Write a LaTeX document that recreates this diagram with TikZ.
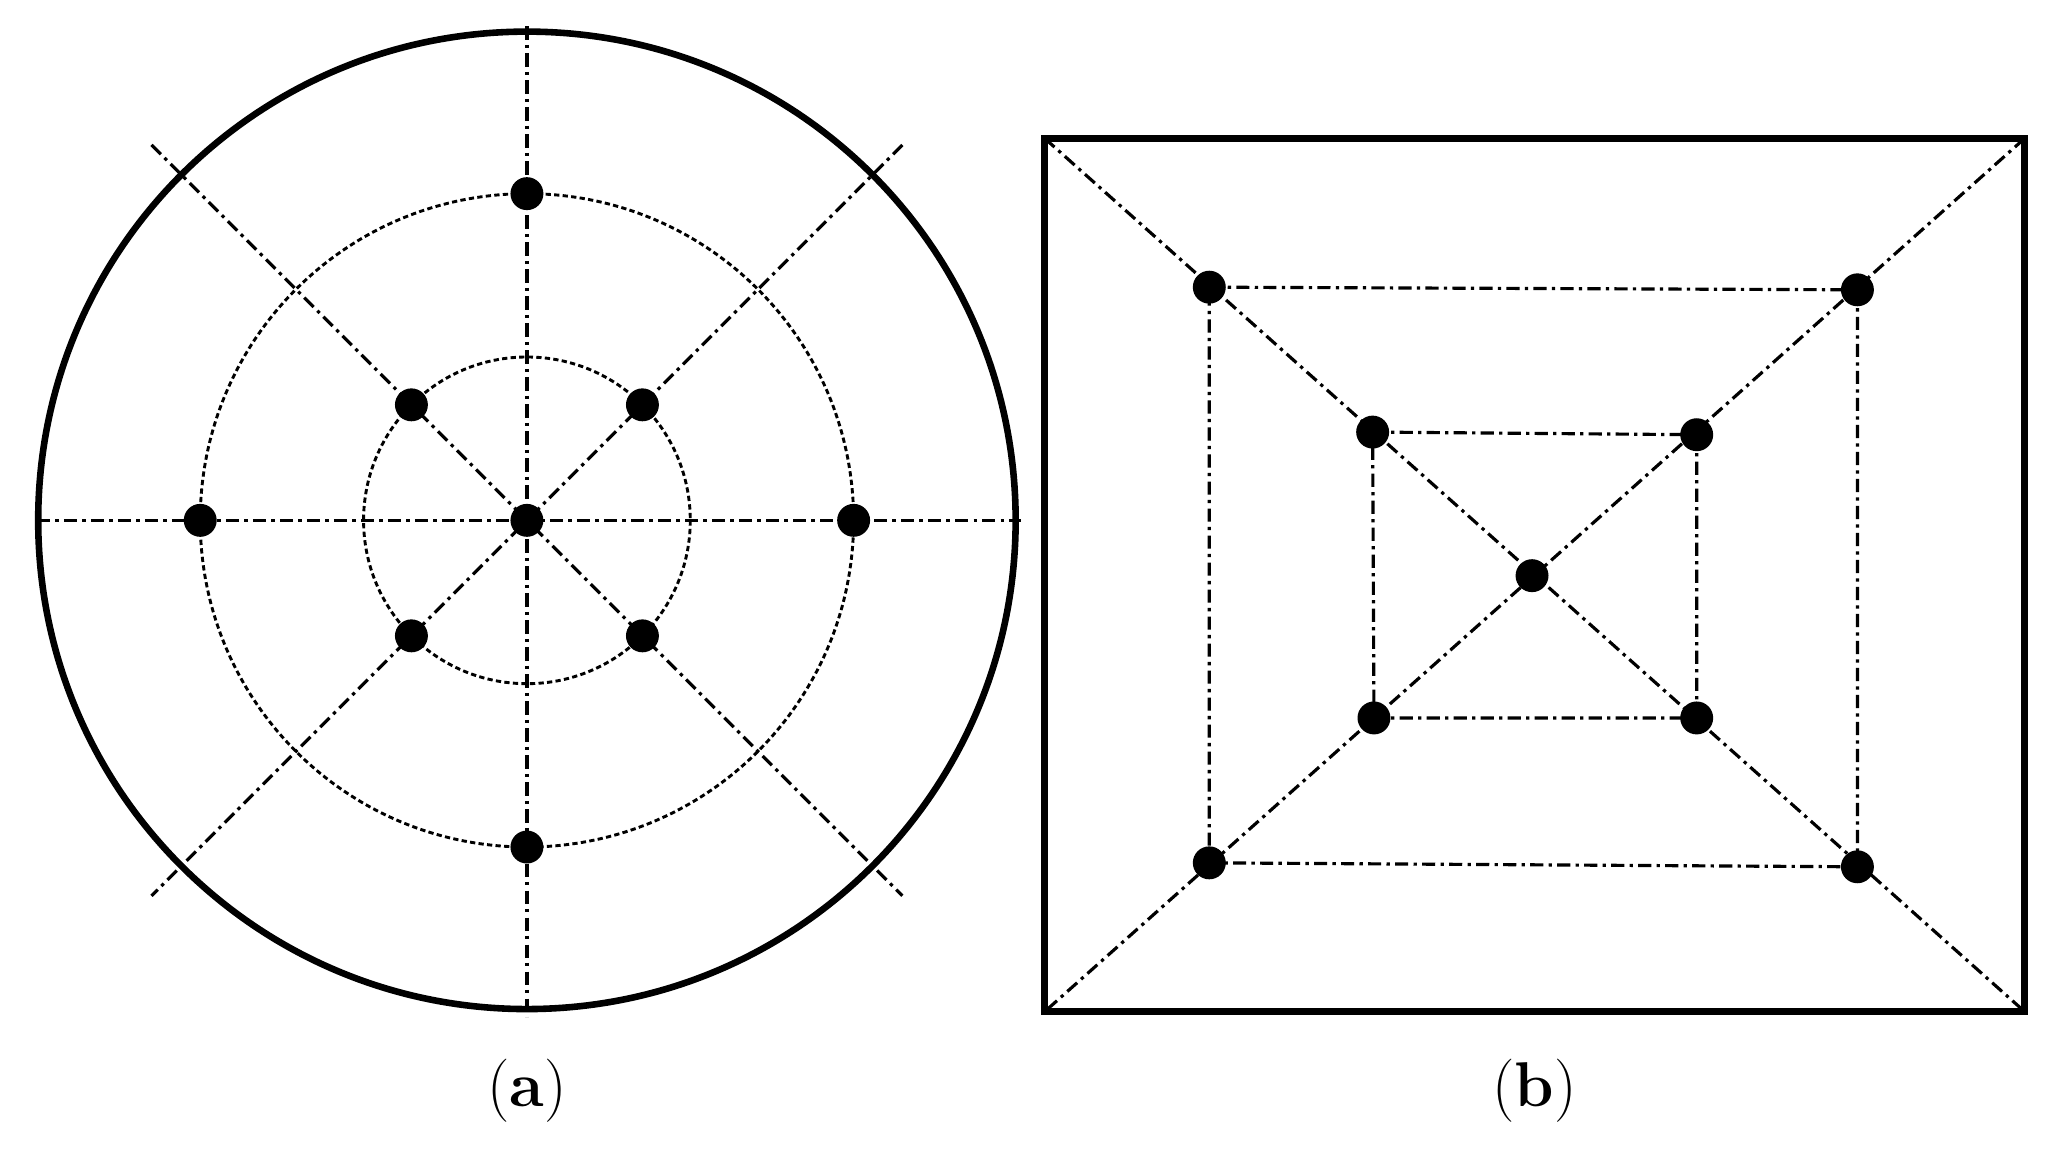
\documentclass[tikz,border=0pt]{standalone}
\usetikzlibrary{calc}
\begin{document}
\begin{tikzpicture}[x=1pt,y=-1pt,
  dd/.style={line width=2.4pt,dash pattern=on 10pt off 4pt on 2.5pt off 4pt},
  dt/.style={line width=2.2pt,dash pattern=on 4pt off 2.5pt},
  dot/.style={circle,fill=black,inner sep=0pt,minimum size=25pt},
  lab/.style={font=\fontsize{48}{52}\selectfont}]
\useasboundingbox (0,0) rectangle (1560,875);
% (a)
\coordinate (c) at (400,395);
\draw[dd] (400,20) -- (400,772);
\draw[dd] (28,395) -- (775,395);
\draw[dd] (115,110) -- (685,680);
\draw[dd] (685,110) -- (115,680);
\draw[dt] (c) circle (124);
\draw[dt] (c) circle (248);
\draw[line width=5pt] (c) circle (371);
\node[dot] (a0) at (c) {};
\foreach \a [count=\i] in {0,90,180,270}{\node[dot] (m\i) at ($(c)+(\a:248)$) {};}
\foreach \a [count=\i] in {45,135,225,315}{\node[dot] (n\i) at ($(c)+(\a:124)$) {};}
\node[lab] at (400,828) {(\textbf{a})};
% (b)
\coordinate (A) at (793,105); \coordinate (B) at (1537,105);
\coordinate (C) at (1537,768); \coordinate (D) at (793,768);
\node[dot] (o1) at (918,218) {}; \node[dot] (o2) at (1410,220) {};
\node[dot] (o3) at (1410,658) {}; \node[dot] (o4) at (918,655) {};
\node[dot] (i1) at (1042,328) {}; \node[dot] (i2) at (1288,330) {};
\node[dot] (i3) at (1288,545) {}; \node[dot] (i4) at (1043,545) {};
\node[dot] (ctr) at (1163,437) {};
\draw[dd] (A) -- (C); \draw[dd] (B) -- (D);
\draw[dd] (o1.center) -- (o2.center) -- (o3.center) -- (o4.center) -- cycle;
\draw[dd] (i1.center) -- (i2.center) -- (i3.center) -- (i4.center) -- cycle;
\draw[line width=5pt] (A) rectangle (C);
\node[lab] at (1165,828) {(\textbf{b})};
\end{tikzpicture}
\end{document}
